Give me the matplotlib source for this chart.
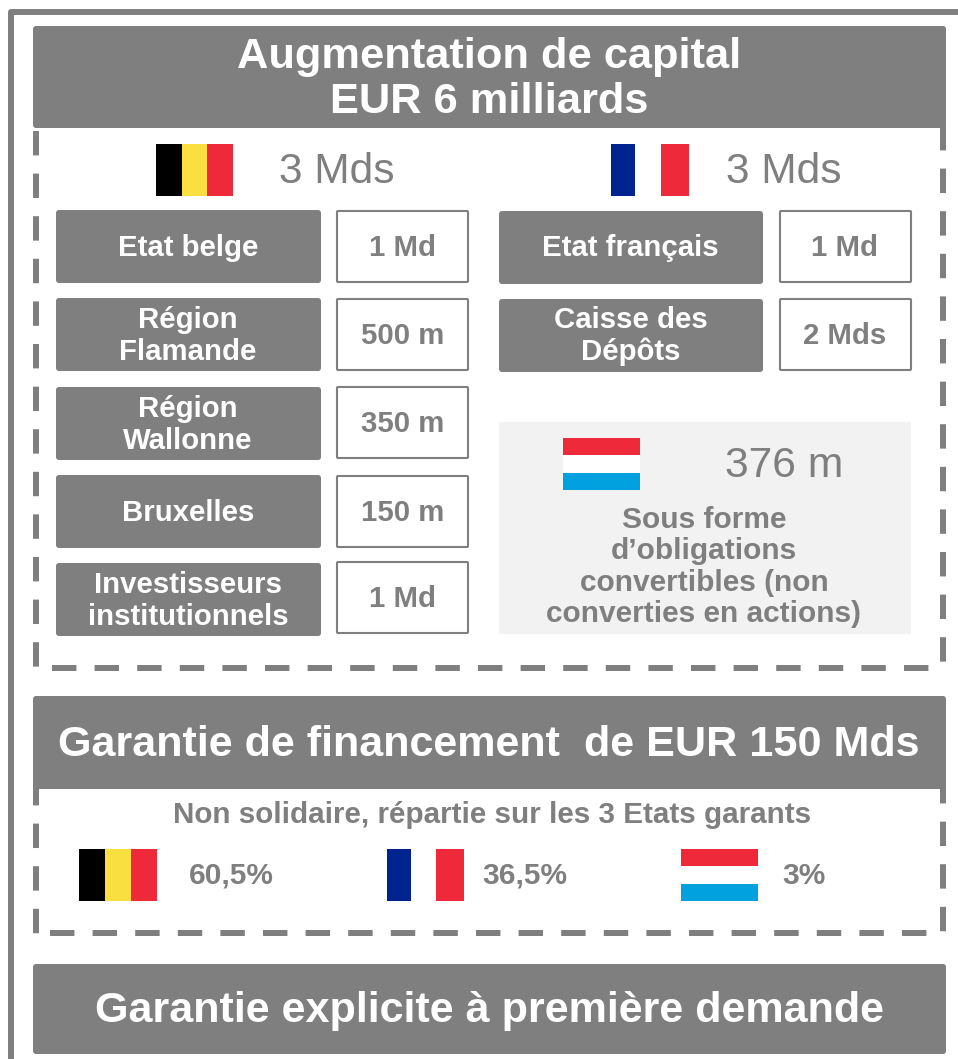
import matplotlib
matplotlib.use("Agg")
import matplotlib.pyplot as plt
from matplotlib.patches import FancyBboxPatch, Rectangle

plt.rcParams['font.family'] = ['Liberation Sans', 'DejaVu Sans']

# Data
title_top = "Augmentation de capital\nEUR 6 milliards"
title_mid = "Garantie de financement  de EUR 150 Mds"
title_bot = "Garantie explicite à première demande"
subtitle_mid = "Non solidaire, répartie sur les 3 Etats garants"

be_total = "3 Mds"
fr_total = "3 Mds"
lu_total = "376 m"
lu_note = "Sous forme\nd’obligations\nconvertibles (non\nconverties en actions)"

be_names = ["Etat belge", "Région\nFlamande", "Région\nWallonne", "Bruxelles", "Investisseurs\ninstitutionnels"]
be_amounts = ["1 Md", "500 m", "350 m", "150 m", "1 Md"]
fr_names = ["Etat français", "Caisse des\nDépôts"]
fr_amounts = ["1 Md", "2 Mds"]

guarantee_shares = ["60,5%", "36,5%", "3%"]

GREY = "#7F7F7F"
RED = "#EE2A3A"
BE_COLORS = ["#000000", "#FADF41", RED]
FR_COLORS = ["#00248F", "#FFFFFF", RED]
LU_COLORS = [RED, "#FFFFFF", "#00A1DE"]

fig = plt.figure(figsize=(9.58, 10.59), dpi=100)
ax = fig.add_axes([0, 0, 1, 1])
ax.set_xlim(0, 958)
ax.set_ylim(1059, 0)
ax.axis("off")


def box(x0, y0, x1, y1, face=GREY, edge="none", lw=0, round_=3, z=2):
    p = FancyBboxPatch((x0, y0), x1 - x0, y1 - y0,
                       boxstyle=f"round,pad=0,rounding_size={round_}",
                       fc=face, ec=edge, lw=lw, zorder=z)
    ax.add_patch(p)


def label(x, y, s, size=21.2, color="white", weight="bold", spacing=1.14):
    ax.text(x, y, s, ha="center", va="center", fontsize=size, color=color,
            fontweight=weight, linespacing=spacing, zorder=5)


def flag(x0, y0, x1, y1, colors, vertical=True, widths=(1/3, 1/3, 1/3)):
    pos = 0
    for c, f in zip(colors, widths):
        if vertical:
            w = (x1 - x0) * f
            ax.add_patch(Rectangle((x0 + pos * (x1 - x0), y0), w, y1 - y0, fc=c, ec="none", zorder=4))
        else:
            h = (y1 - y0) * f
            ax.add_patch(Rectangle((x0, y0 + pos * (y1 - y0)), x1 - x0, h, fc=c, ec="none", zorder=4))
        pos += f


def dashed(xs, ys):
    # 6px wide, 24.4px dash, 18.2px gap
    ax.plot(xs, ys, color=GREY, lw=4.32, ls=(0, (4.07, 3.03)),
            dash_capstyle="butt", dash_joinstyle="miter", zorder=1)


# Outer frame, runs off the right and bottom edges
ax.plot([11, 11, 958], [1059, 12, 12], color=GREY, lw=4.3, solid_joinstyle="round", zorder=1)

# Dashed frames
dashed([36, 36], [131, 668])
dashed([52.5, 931], [667.7, 667.7])
dashed([943, 943], [125.8, 663])
dashed([36, 36], [780.5, 934])
dashed([50, 928], [933, 933])
dashed([943, 943], [778.5, 932])

# Top block
box(33, 26, 946, 128)
label(489, 79.5, title_top, size=31.25, spacing=1.14)

fr_widths = (0.31, 0.33, 0.36)
flag(156, 144, 233, 196, BE_COLORS)
label(337, 172, be_total, size=30.5, color=GREY, weight="normal")
flag(611, 144, 689, 196, FR_COLORS, widths=fr_widths)
label(784, 172, fr_total, size=30.5, color=GREY, weight="normal")

row_tops = [210, 298, 387, 475, 563]
value_tops = [210, 298, 386, 475, 561]
for top, vtop, name, amount in zip(row_tops, value_tops, be_names, be_amounts):
    box(56, top, 321, top + 73)
    box(337, vtop + 1, 468, vtop + 72, face="white", edge=GREY, lw=1.5, round_=1)
    label(188, top + 38, name)
    label(402.5, vtop + 38, amount, color=GREY)

for top, name, amount in zip(row_tops, fr_names, fr_amounts):
    box(499, top + 1, 763, top + 74)
    box(780, top + 1, 911, top + 72, face="white", edge=GREY, lw=1.5, round_=1)
    label(630.5, top + 38, name)
    label(845, top + 38, amount, color=GREY)

# Luxembourg panel
ax.add_patch(Rectangle((499, 422), 412, 212, fc="#F2F2F2", ec="none", zorder=2))
flag(563, 438, 640, 490, LU_COLORS, vertical=False)
label(784, 466, lu_total, size=30.7, color=GREY, weight="normal")
label(704, 567, lu_note, size=21.5, color=GREY, spacing=1.16)

# Middle block
box(33, 696, 946, 789)
label(489, 745, title_mid, size=31.1)
label(492, 815, subtitle_mid, size=21.3, color=GREY)

flag(79, 849, 157, 901, BE_COLORS)
flag(387, 849, 464, 901, FR_COLORS, widths=fr_widths)
flag(681, 849, 758, 901, LU_COLORS, vertical=False)
for x, share in zip([231, 525, 804], guarantee_shares):
    label(x, 876, share, size=21.5, color=GREY)

# Bottom block
box(33, 964, 946, 1054)
label(489.5, 1011, title_bot, size=31.1)

fig.savefig("out.png", dpi=100)
